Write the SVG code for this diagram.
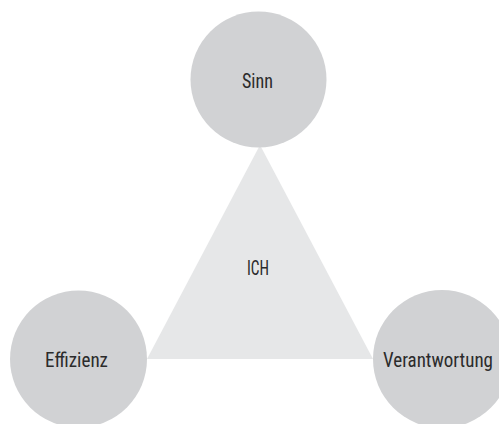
<svg xmlns="http://www.w3.org/2000/svg" width="499" height="424" viewBox="0 0 499 424">
<style>
.c{fill:#d1d2d4}
.t{font-family:"Roboto Condensed","Liberation Sans Narrow","DejaVu Sans Condensed",Roboto,sans-serif;font-size:20px;fill:#2b2b2b;text-anchor:middle}
</style>
<rect width="499" height="424" fill="#fff"/>
<g id="ich"><polygon points="260,145 147,359 373,359" fill="#e6e7e8"/><text class="t" x="258" y="275" textLength="22" lengthAdjust="spacingAndGlyphs">ICH</text></g>
<g id="connectors"></g>
<g id="sinn"><circle class="c" cx="258.5" cy="79.5" r="68"/><text class="t" x="257.5" y="88" textLength="31" lengthAdjust="spacingAndGlyphs">Sinn</text></g>
<g id="effizienz"><circle class="c" cx="78.5" cy="359" r="68.5"/><text class="t" x="76.5" y="367" textLength="63" lengthAdjust="spacingAndGlyphs">Effizienz</text></g>
<g id="verantwortung"><circle class="c" cx="442" cy="359" r="69"/><text class="t" x="438" y="367" textLength="110" lengthAdjust="spacingAndGlyphs">Verantwortung</text></g>
</svg>
